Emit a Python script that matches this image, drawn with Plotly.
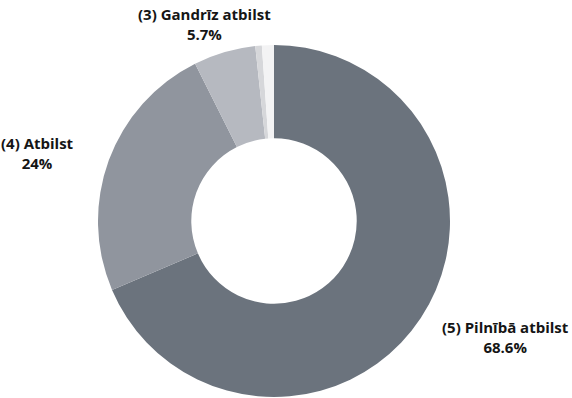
import plotly.graph_objects as go

# Survey response shares (percent), clockwise from 12 o'clock
labels = ["(5) Pilnībā atbilst", "(4) Atbilst", "(3) Gandrīz atbilst", "(2) Drīzāk neatbilst", "(1) Neatbilst"]
values = [68.6, 24.0, 5.7, 0.6, 1.1]
value_text = ["68.6%", "24%", "5.7%", "0.6%", "1.1%"]
colors = ["#6b737d", "#90959e", "#b6b9c0", "#d6d7da", "#f3f3f4"]

# label placement (paper coords) for the three labelled slices
label_pos = {0: (0.883, 0.17), 1: (0.065, 0.693), 2: (0.358, 1.06)}

fig = go.Figure(go.Pie(
    labels=labels,
    values=values,
    hole=0.47,
    sort=False,
    direction="clockwise",
    rotation=0,
    marker=dict(colors=colors, line=dict(color="white", width=0)),
    textinfo="none",
    hoverinfo="label+percent",
    domain=dict(x=[98 / 572, 450 / 572], y=[0, 1]),
    showlegend=False,
))

for i, (x, y) in label_pos.items():
    fig.add_annotation(
        x=x, y=y, xref="paper", yref="paper",
        xanchor="center", yanchor="middle",
        text=f"<b>{labels[i]}<br>{value_text[i]}</b>",
        showarrow=False,
        font=dict(family="Open Sans", size=15, color="#151515", weight=800),
        align="center",
    )

fig.update_layout(
    width=572, height=398,
    margin=dict(l=0, r=0, t=45, b=1),
    paper_bgcolor="white",
    plot_bgcolor="white",
)

fig.write_html("out.html")
